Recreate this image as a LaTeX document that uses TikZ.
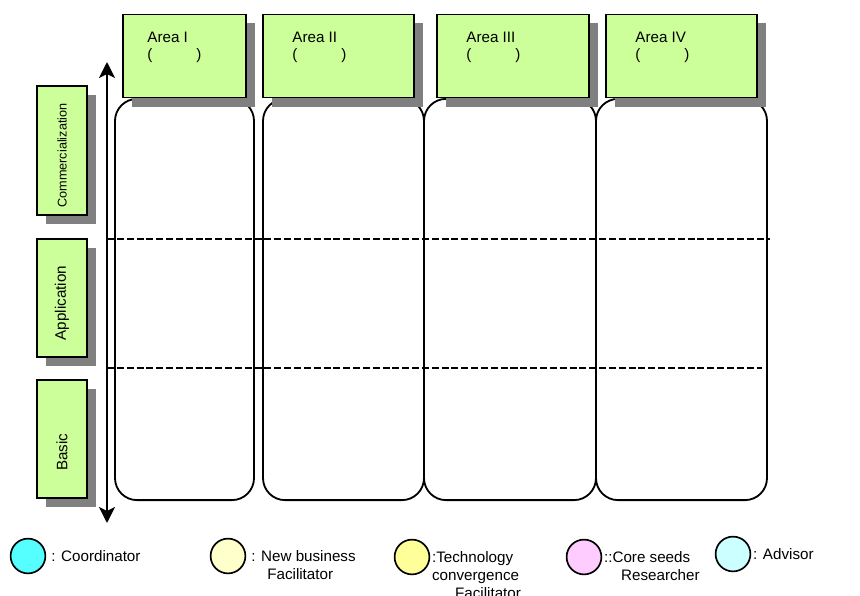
\documentclass[tikz,border=0pt]{standalone}
\usepackage{fontspec}
\setmainfont{Liberation Sans}
\usetikzlibrary{arrows.meta,positioning,shadows}
\definecolor{leaf}{HTML}{CCFF99}
\definecolor{shade}{HTML}{808080}
\definecolor{coord}{HTML}{55FFFF}
\definecolor{newbiz}{HTML}{FFFFCC}
\definecolor{techconv}{HTML}{FFFF99}
\definecolor{seeds}{HTML}{FFCCFF}
\definecolor{advise}{HTML}{CCFFFF}
\tikzset{
  hdr/.style={draw=black,fill=leaf,line width=1.2pt,inner sep=0pt,minimum height=2.08cm,
    general shadow={fill=shade,shadow xshift=0.225cm,shadow yshift=-0.225cm}},
  hdrtxt/.style={anchor=north west,align=left,inner sep=0pt,xshift=0.75cm,yshift=-0.45cm},
  stage/.style={draw=black,fill=leaf,line width=1.2pt,inner sep=0pt,minimum width=1.25cm,
    general shadow={fill=shade,shadow xshift=0.225cm,shadow yshift=-0.225cm}},
  stagetxt/.style={rotate=90,inner sep=0pt},
  lane/.style={draw=black,fill=white,line width=1.3pt,rounded corners=0.55cm,
    minimum height=10.03cm},
  split/.style={dash pattern=on 5pt off 2pt,line width=1.3pt},
  axis/.style={{Stealth[length=4mm,width=4mm,inset=1mm]}-{Stealth[length=4mm,width=4mm,inset=1mm]},
    line width=1.6pt},
  role/.style={circle,draw=black,fill=#1,line width=1.2pt,minimum size=0.87cm,inner sep=0pt},
  roletxt/.style={anchor=north west,align=left,inner sep=0pt},
}

\begin{document}
\begin{tikzpicture}[font=\fontsize{10.8pt}{12.6pt}\selectfont]
    \useasboundingbox (0,0) rectangle (21.5,-14.9);

    % lanes first, the headers sit on top of them
    \node[lane,minimum width=3.475cm] (c1) at (4.6125,-7.4875) {};
    \node[lane,minimum width=4.025cm] (c2) at (8.5875,-7.4875) {};
    \node[lane,minimum width=4.3cm]   (c3) at (12.75,-7.4875) {};
    \node[lane,minimum width=4.275cm] (c4) at (17.0375,-7.4875) {};

    \draw[split] (2.675,-5.975) -- (19.25,-5.975);
    \draw[split] (2.675,-9.2) -- (19.05,-9.2);

    \node[hdr,minimum width=3.075cm,
      label={[hdrtxt,xshift=-0.125cm]north west:{Area I\\(\hspace{1.1cm})}}] (h1) at (4.6125,-1.4) {};
    \node[hdr,minimum width=3.775cm,
      label={[hdrtxt]north west:{Area II\\(\hspace{1.1cm})}}] (h2) at (8.4625,-1.4) {};
    \node[hdr,minimum width=3.8cm,
      label={[hdrtxt]north west:{Area III\\(\hspace{1.1cm})}}] (h3) at (12.825,-1.4) {};
    \node[hdr,minimum width=3.775cm,
      label={[hdrtxt]north west:{Area IV\\(\hspace{1.1cm})}}] (h4) at (17.0375,-1.4) {};

    % stages along the axis
    \node[stage,minimum height=3.225cm,
      label={[yshift=-0.125cm,stagetxt,font=\fontsize{9pt}{10pt}\selectfont]center:Commercialization}] (st1) at (1.55,-3.7625) {};
    \node[stage,minimum height=2.95cm,
      label={[yshift=-0.125cm,stagetxt]center:Application}] (st2) at (1.55,-7.45) {};
    \node[stage,minimum height=2.95cm,
      label={[yshift=-0.33cm,stagetxt]center:Basic}] (st3) at (1.55,-10.975) {};

    \coordinate (axtop) at (2.675,-1.55);
    \coordinate (axbot) at (2.675,-13.075);
    \draw[axis] (axtop) -- (axbot);

    % legend
    \node[role=coord]    (r1) at (0.7,-13.9) {};
    \node[role=newbiz]   (r2) at (5.7,-13.9) {};
    \node[role=techconv] (r3) at (10.3,-13.925) {};
    \node[role=seeds]    (r4) at (14.6,-13.925) {};
    \node[role=advise]   (r5) at (18.325,-13.85) {};

    \node[roletxt] (t1) at ([shift={(0.12,0.14)}]r1.east) {: Coordinator};
    \node[roletxt] (t2) at ([shift={(0.12,0.14)}]r2.east) {: New business\\\hspace*{0.4cm}Facilitator};
    \node[roletxt] (t3) at ([shift={(0.04,0.14)}]r3.east) {:Technology\\convergence\\\hspace*{0.575cm}Facilitator};
    \node[roletxt] (t4) at ([shift={(0.04,0.14)}]r4.east) {::Core seeds\\\hspace*{0.425cm}Researcher};
    \node[roletxt] (t5) at ([shift={(0.04,0.14)}]r5.east) {: Advisor};
  \end{tikzpicture}
\end{document}
